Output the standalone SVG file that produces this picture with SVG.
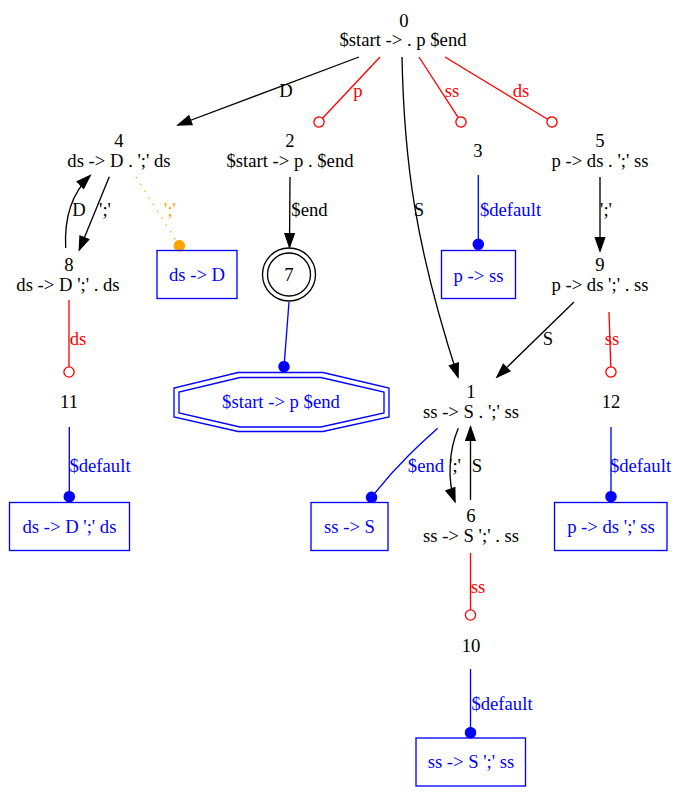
<svg xmlns="http://www.w3.org/2000/svg" width="679" height="792" viewBox="0 0 679 792">
<style>
text{font-family:"Liberation Serif","Times New Roman",serif;font-size:18.67px;text-anchor:middle}
.k{fill:#000}.r{fill:#f00}.b{fill:#00f}.o{fill:#ffa500}
.e{fill:none;stroke:#000;stroke-width:1.33}
.er{fill:none;stroke:#f00;stroke-width:1.33}
.eb{fill:none;stroke:#00f;stroke-width:1.33}
.eo{fill:none;stroke:#ffa500;stroke-width:1.33;stroke-dasharray:1.33,6.67}
.box{fill:none;stroke:#00f;stroke-width:1.33}
</style>
<defs>
<marker id="arr" markerWidth="16" markerHeight="12" refX="0" refY="0" orient="auto" markerUnits="userSpaceOnUse" overflow="visible"><polygon points="-13.3,-4.67 0,0 -13.3,4.67" fill="#000" stroke="#000" stroke-width="1.33"/></marker>
<marker id="odot" markerWidth="14" markerHeight="14" refX="0" refY="0" orient="auto" markerUnits="userSpaceOnUse" overflow="visible"><circle cx="5.1" cy="0" r="5.1" fill="none" stroke="#f00" stroke-width="1.33"/></marker>
<marker id="bdot" markerWidth="14" markerHeight="14" refX="0" refY="0" orient="auto" markerUnits="userSpaceOnUse" overflow="visible"><circle cx="5.1" cy="0" r="5.1" fill="#00f" stroke="#00f" stroke-width="1.33"/></marker>
<marker id="odotor" markerWidth="14" markerHeight="14" refX="0" refY="0" orient="auto" markerUnits="userSpaceOnUse" overflow="visible"><circle cx="5.1" cy="0" r="5.1" fill="#ffa500" stroke="#ffa500" stroke-width="1.33"/></marker>
</defs>
<g id="connectors">
<path class="e" d="M359,57 L178,125" marker-end="url(#arr)"/><text x="286" y="97" class="k">D</text>
<path class="er" d="M380,57 L322.5,118.3" marker-end="url(#odot)"/><text x="358" y="97" class="r">p</text>
<path class="er" d="M419,57 L458.2,117.7" marker-end="url(#odot)"/><text x="452" y="97" class="r">ss</text>
<path class="er" d="M445,57 L547.6,119.3" marker-end="url(#odot)"/><text x="521" y="97" class="r">ds</text>
<path class="e" d="M402,57 C404,160 415,245 458,377" marker-end="url(#arr)"/><text x="419" y="216" class="k">S</text>
<path class="eo" d="M136,177 L176.6,241.4" marker-end="url(#odotor)"/><text x="170" y="216" class="o">';'</text>
<path class="e" d="M109.3,176.7 L79.3,250" marker-end="url(#arr)"/><text x="105" y="216" class="k">';'</text>
<path class="e" d="M65.7,248 C64,215 73,192 90,175.7" marker-end="url(#arr)"/><text x="79" y="216" class="k">D</text>
<path class="er" d="M69,300 L69,366.9" marker-end="url(#odot)"/><text x="78" y="345" class="r">ds</text>
<path class="eb" d="M69.3,427 L69.3,491.6" marker-end="url(#bdot)"/><text x="100" y="472" class="b">$default</text>
<path class="e" d="M290,177 L289.5,247" marker-end="url(#arr)"/><text x="309.5" y="216" class="k">$end</text>
<path class="eb" d="M289,302 L284.4,361.6" marker-end="url(#bdot)"/>
<path class="eb" d="M478.3,175 L478.3,239.2" marker-end="url(#bdot)"/><text x="510.5" y="216" class="b">$default</text>
<path class="e" d="M600,177 L600,251" marker-end="url(#arr)"/><text x="606" y="216" class="k">';'</text>
<path class="e" d="M574,302 L497,377" marker-end="url(#arr)"/><text x="548" y="345" class="k">S</text>
<path class="er" d="M609,312 L610.8,366.9" marker-end="url(#odot)"/><text x="612" y="345" class="r">ss</text>
<path class="eb" d="M611,427 L611,491.6" marker-end="url(#bdot)"/><text x="640.5" y="472" class="b">$default</text>
<path class="eb" d="M437.7,428.3 C418,446 398,464 374.7,493.3" marker-end="url(#bdot)"/><text x="426" y="472" class="b">$end</text>
<path class="e" d="M458.3,428.3 C449,450 447,480 455,501.7" marker-end="url(#arr)"/><text x="455" y="472" class="k">';'</text>
<path class="e" d="M470.5,500 L470.5,427" marker-end="url(#arr)"/><text x="477" y="472" class="k">S</text>
<path class="er" d="M470.5,553 L470.5,609.9" marker-end="url(#odot)"/><text x="478" y="593" class="r">ss</text>
<path class="eb" d="M470.5,669 L470.5,727.6" marker-end="url(#bdot)"/><text x="502" y="710" class="b">$default</text>
</g>
<g id="n0"><text x="404" y="27">0</text><text x="403" y="46">$start -&gt; . p $end</text></g>
<g id="n4"><text x="119" y="147">4</text><text x="119" y="167">ds -&gt; D . ';' ds</text></g>
<g id="n2"><text x="290" y="147">2</text><text x="290" y="167">$start -&gt; p . $end</text></g>
<g id="n3"><text x="478" y="157">3</text></g>
<g id="n5"><text x="600" y="147">5</text><text x="600" y="167">p -&gt; ds . ';' ss</text></g>
<g id="r_ds_D"><rect class="box" x="157" y="250.5" width="80" height="48"/><text x="197" y="281" class="b">ds -&gt; D</text></g>
<g id="n7"><circle cx="289" cy="274.5" r="21.5" fill="none" stroke="#000" stroke-width="1.33"/><circle cx="289" cy="274.5" r="26.5" fill="none" stroke="#000" stroke-width="1.33"/><text x="289" y="281">7</text></g>
<g id="r_p_ss"><rect class="box" x="441.5" y="250.5" width="74" height="48"/><text x="478.5" y="282" class="b">p -&gt; ss</text></g>
<g id="n8"><text x="69" y="271">8</text><text x="68" y="291">ds -&gt; D ';' . ds</text></g>
<g id="n9"><text x="600" y="271">9</text><text x="600" y="291">p -&gt; ds ';' . ss</text></g>
<g id="r_start"><polygon class="box" points="238,372.5 323,372.5 389,388 389,417 323,431.5 238,431.5 174,417 174,388"/><polygon class="box" points="240,377.5 321,377.5 384,392 384,413 321,427 240,427 179,413 179,392"/><text x="281" y="408" class="b">$start -&gt; p $end</text></g>
<g id="n11"><text x="69" y="408">11</text></g>
<g id="n1"><text x="471" y="398">1</text><text x="471" y="418">ss -&gt; S . ';' ss</text></g>
<g id="n12"><text x="611" y="408">12</text></g>
<g id="r_ds_D_ds"><rect class="box" x="9.5" y="502.5" width="120" height="48"/><text x="69.5" y="533" class="b">ds -&gt; D ';' ds</text></g>
<g id="r_ss_S"><rect class="box" x="311" y="502.5" width="77" height="48"/><text x="349.5" y="533" class="b">ss -&gt; S</text></g>
<g id="n6"><text x="471" y="522">6</text><text x="471" y="542">ss -&gt; S ';' . ss</text></g>
<g id="r_p_ds_ss"><rect class="box" x="554.5" y="502.5" width="112.5" height="48"/><text x="611" y="533" class="b">p -&gt; ds ';' ss</text></g>
<g id="n10"><text x="471" y="652">10</text></g>
<g id="r_ss_S_ss"><rect class="box" x="416" y="738" width="109.5" height="48"/><text x="471" y="768" class="b">ss -&gt; S ';' ss</text></g>
</svg>
